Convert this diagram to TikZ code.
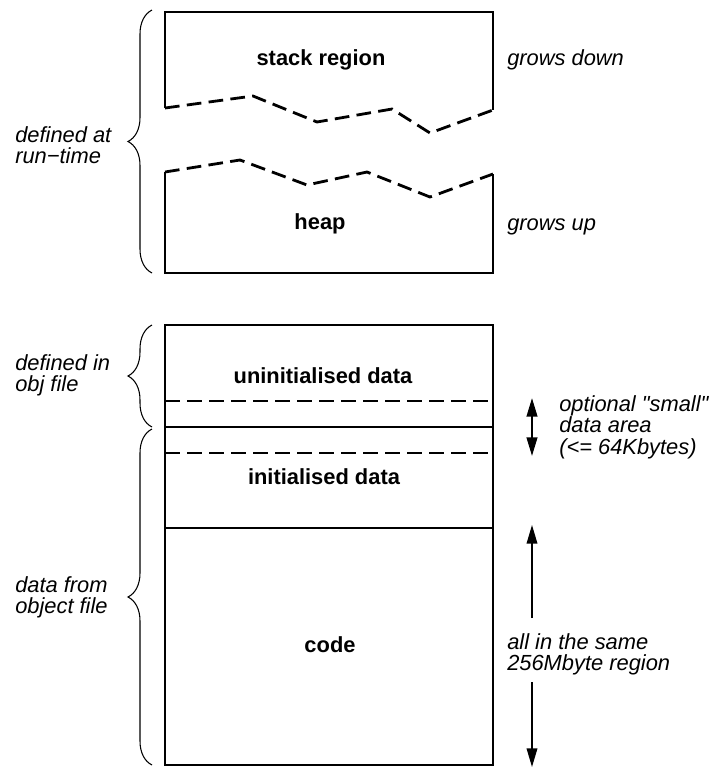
\documentclass[tikz,border=0pt]{standalone}
\usepackage{fontspec}
\setmainfont{Liberation Sans}[Ligatures=TeXOff]
\usetikzlibrary{arrows.meta,decorations.pathreplacing}
\begin{document}
\begin{tikzpicture}[x=0.75pt,y=-0.75pt,
  box/.style={line width=2pt,line join=miter},
  zig/.style={line width=2.1pt,dash pattern=on 11pt off 5.5pt},
  lbl/.style={font=\fontsize{16.4}{16}\selectfont\itshape,align=left,inner sep=0pt},
  ttl/.style={font=\fontsize{16.4}{16}\selectfont\bfseries,inner sep=0pt,anchor=base},
  brc/.style={decorate,decoration={brace,amplitude=18pt},line width=0.8pt},
  arr/.style={line width=1.1pt,-{Triangle[length=14pt,width=8pt]}},
  darr/.style={line width=1.6pt,{Triangle[length=14pt,width=8pt]}-{Triangle[length=14pt,width=8pt]}}
]
\useasboundingbox (0,0) rectangle (713,769);

% stack region
\draw[box] (165,108) -- (165,12) -- (493,12) -- (493,110);
\draw[zig] (165,108) -- (253,96) -- (317,122) -- (392,109) -- (430,133) -- (493,110);
% heap
\draw[zig] (165,172) -- (240,160) -- (307,185) -- (367,172) -- (430,197) -- (493,174);
\draw[box] (165,172) -- (165,273) -- (493,273) -- (493,174);

% lower stack
\draw[box] (165,325) rectangle (493,765);
\draw[box] (165,427) -- (493,427);
\draw[box] (165,528) -- (493,528);
\draw[zig] (165,401) -- (493,401);
\draw[zig] (165,453) -- (493,453);

% titles
\node[ttl] (stack) at (321,65) {stack region};
\node[ttl] (heap) at (320,229) {heap};
\node[ttl] (unin) at (323,383) {uninitialised data};
\node[ttl] (init) at (324,484) {initialised data};
\node[ttl] (code) at (330,652) {code};

% braces
\draw[brc] (152,273) -- (152,10);
\draw[brc] (152,427) -- (152,325);
\draw[brc] (152,765) -- (152,429);

% left labels
\node[lbl,anchor=north west] (rt) at (15,126.5) {defined at\\run−time};
\node[lbl,anchor=north west] (obj) at (15,354.5) {defined in\\obj file};
\node[lbl,anchor=north west] (dof) at (15,576.5) {data from\\object file};

% right labels
\node[lbl,anchor=base west] (gd) at (507,65) {grows down};
\node[lbl,anchor=base west] (gu) at (507,230) {grows up};
\node[lbl,anchor=north west] (small) at (559,395.5) {optional "small"\\data area\\(<= 64Kbytes)};
\node[lbl,anchor=north west] (same) at (507,633) {all in the same\\256Mbyte region};

% arrows
\coordinate (s1) at (532,398);
\coordinate (s2) at (532,456);
\draw[darr] (s1) -- (s2);
\coordinate (a1) at (532,525);
\coordinate (a2) at (532,618);
\coordinate (a3) at (532,682);
\coordinate (a4) at (532,767);
\draw[arr] (a2) -- (a1);
\draw[arr] (a3) -- (a4);
\end{tikzpicture}
\end{document}
